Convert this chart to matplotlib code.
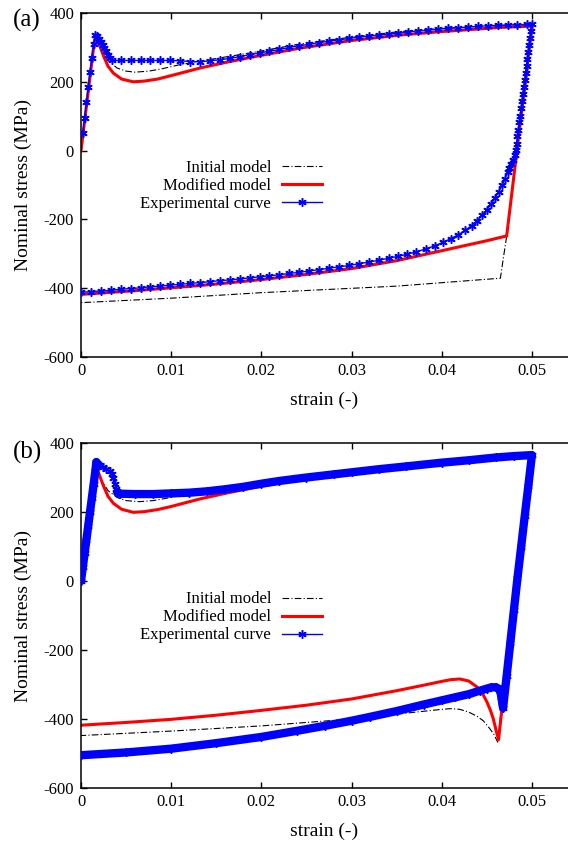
import matplotlib
matplotlib.use("Agg")
import matplotlib.pyplot as plt

# ---- panel (a) ----
init_a_strain = [0.0, 0.0015, 0.0017, 0.0022, 0.0030, 0.0040, 0.0050, 0.0060, 0.0075, 0.0090,
                 0.0110, 0.0132, 0.0190, 0.0243, 0.0300, 0.0354, 0.0400, 0.0465, 0.0500,
                 0.0472, 0.0465, 0.0350, 0.0200, 0.0100, 0.0]
init_a_stress = [0, 322, 325, 295, 262, 240, 231, 228, 231, 238,
                 250, 260, 285, 310, 330, 346, 355, 364, 366,
                 -248, -371, -394, -413, -429, -442]

mod_a_strain = [0.0, 0.0015, 0.0017, 0.0020, 0.0025, 0.0030, 0.0036, 0.0045, 0.0058, 0.0070,
                0.0085, 0.0100, 0.0132, 0.0160, 0.0190, 0.0243, 0.0300, 0.0354, 0.0400, 0.0465,
                0.0500, 0.0472, 0.0450, 0.0400, 0.0350, 0.0300, 0.0250, 0.0200, 0.0150, 0.0100,
                0.0050, 0.0]
mod_a_stress = [0, 322, 326, 310, 275, 245, 225, 208, 200, 202,
                208, 218, 240, 256, 272, 298, 320, 336, 346, 358,
                362, -248, -262, -291, -320, -343, -360, -375, -388, -399,
                -409, -418]

exp_a_strain = [0.0002, 0.0004, 0.0006, 0.0008, 0.0010, 0.0012, 0.0014, 0.0016,
                0.0018, 0.0020, 0.0022, 0.0024, 0.0026, 0.0028, 0.0030, 0.0032, 0.0034,
                0.0044, 0.0055, 0.0066, 0.0077, 0.0088, 0.0099, 0.0110, 0.0121, 0.0132,
                0.0143, 0.0154, 0.0165, 0.0176, 0.0187, 0.0198, 0.0209, 0.0220, 0.0231,
                0.0242, 0.0253, 0.0264, 0.0275, 0.0286, 0.0297, 0.0308, 0.0319, 0.0330,
                0.0341, 0.0352, 0.0363, 0.0374, 0.0385, 0.0396, 0.0407, 0.0418, 0.0429,
                0.0440, 0.0451, 0.0462, 0.0473, 0.0484, 0.0495, 0.0500,
                0.0499, 0.0498, 0.0497, 0.0496, 0.0495, 0.0494, 0.0493, 0.0492, 0.0491,
                0.0490, 0.0489, 0.0488, 0.0487, 0.0486, 0.0485, 0.0484, 0.0483, 0.0482,
                0.0481, 0.0479, 0.0477, 0.0475, 0.0473, 0.0470, 0.0467, 0.0463, 0.0459,
                0.0455, 0.0450, 0.0445, 0.0439, 0.0433, 0.0426, 0.0418, 0.0410, 0.0401,
                0.0392, 0.0382, 0.0372, 0.0362, 0.0352, 0.0341, 0.0330, 0.0319, 0.0308,
                0.0297, 0.0286, 0.0275, 0.0264, 0.0253, 0.0242, 0.0231, 0.0220, 0.0209,
                0.0198, 0.0187, 0.0176, 0.0165, 0.0154, 0.0143, 0.0132, 0.0121, 0.0110,
                0.0099, 0.0088, 0.0077, 0.0066, 0.0055, 0.0044, 0.0033, 0.0022, 0.0011,
                0.0000]
exp_a_stress = [50, 95, 140, 185, 228, 270, 310, 335,
                332, 325, 316, 307, 298, 289, 279, 268, 262,
                262, 262, 262, 262, 262, 262, 261, 259, 258,
                261, 264, 268, 273, 279, 284, 289, 294, 300,
                305, 309, 314, 318, 322, 326, 330, 333, 336,
                339, 342, 345, 348, 350, 353, 355, 357, 359,
                361, 363, 364, 365, 366, 367, 368,
                348, 327, 307, 286, 266, 245, 225, 204, 184,
                164, 143, 123, 102, 82, 61, 41, 20, 2,
                -12, -27, -40, -52, -63, -82, -100, -120, -138,
                -155, -172, -188, -204, -218, -232, -245, -256, -267,
                -277, -286, -294, -301, -307, -313, -319, -324, -329,
                -334, -338, -342, -346, -350, -354, -357, -361, -364,
                -367, -370, -373, -376, -378, -381, -384, -386, -389,
                -391, -394, -396, -399, -401, -403, -406, -408, -410,
                -412]

# ---- panel (b) ----
init_b_strain = [0.0, 0.0015, 0.0017, 0.0022, 0.0030, 0.0040, 0.0050, 0.0065, 0.0080, 0.0095,
                 0.0110, 0.0132, 0.0190, 0.0243, 0.0300, 0.0354, 0.0400, 0.0465, 0.0500,
                 0.0483, 0.0462, 0.0458, 0.0453, 0.0446, 0.0439, 0.0430, 0.0420, 0.0410,
                 0.0400, 0.0350, 0.0300, 0.0200, 0.0100, 0.0]
init_b_stress = [0, 322, 325, 295, 262, 242, 233, 230, 233, 240,
                 248, 257, 278, 298, 314, 330, 342, 356, 362,
                 20, -467, -445, -427, -405, -392, -380, -372, -370,
                 -372, -386, -400, -420, -435, -448]

mod_b_strain = [0.0, 0.0015, 0.0017, 0.0020, 0.0025, 0.0030, 0.0036, 0.0045, 0.0058, 0.0070,
                0.0085, 0.0100, 0.0132, 0.0160, 0.0190, 0.0243, 0.0300, 0.0354, 0.0400, 0.0465,
                0.0500, 0.0483, 0.0463, 0.0460, 0.0457, 0.0454, 0.0450, 0.0445, 0.0439, 0.0430,
                0.0420, 0.0410, 0.0400, 0.0380, 0.0350, 0.0300, 0.0250, 0.0200, 0.0150, 0.0100,
                0.0050, 0.0]
mod_b_stress = [0, 322, 326, 310, 275, 245, 225, 208, 199, 201,
                207, 216, 238, 254, 270, 296, 318, 334, 343, 356,
                362, 20, -460, -430, -398, -375, -350, -325, -307, -290,
                -284, -286, -291, -302, -318, -342, -360, -375, -389, -401,
                -410, -418]

exp_b_strain = [0.0, 0.0002, 0.0004, 0.0006, 0.0008, 0.0010, 0.0012, 0.0014, 0.0016, 0.0017,
                0.0019, 0.0021, 0.0024, 0.0028, 0.0032, 0.0034, 0.0036, 0.0038, 0.0039, 0.0040,
                0.0043, 0.0060, 0.0080, 0.0100, 0.0120, 0.0140, 0.0160, 0.0180, 0.0200, 0.0220,
                0.0250, 0.0280, 0.0300, 0.0330, 0.0360, 0.0400, 0.0430, 0.0460, 0.0480, 0.0500,
                0.0496, 0.0492, 0.0488, 0.0484, 0.0480, 0.0476, 0.0472, 0.0468, 0.0467, 0.0466,
                0.0465, 0.0463, 0.0460, 0.0455, 0.0450, 0.0442, 0.0430, 0.0415, 0.0400, 0.0380,
                0.0350, 0.0320, 0.0300, 0.0270, 0.0240, 0.0200, 0.0150, 0.0100, 0.0050, 0.0000]
exp_b_stress = [0, 40, 80, 120, 160, 200, 240, 280, 320, 345,
                340, 335, 330, 326, 320, 310, 298, 282, 268, 258,
                253, 252, 252, 254, 256, 260, 266, 273, 282, 290,
                300, 309, 315, 324, 332, 343, 350, 358, 362, 365,
                275, 188, 98, 9, -85, -180, -275, -368, -352, -335,
                -320, -312, -308, -308, -312, -318, -328, -337, -346, -358,
                -377, -394, -405, -420, -434, -452, -470, -486, -497, -505]
# point ranges of (b) where the dense data merge into a thick band
band_b = [(0, 10), (19, 70)]

labels = ["Initial model", "Modified model", "Experimental curve"]
y_ticks = [-600, -400, -200, 0, 200, 400]
x_ticks = [0, 0.01, 0.02, 0.03, 0.04, 0.05]
x_tick_labels = ["0", "0.01", "0.02", "0.03", "0.04", "0.05"]

plt.rcParams['font.family'] = ['Liberation Serif', 'DejaVu Serif']
plt.rcParams['font.size'] = 12
plt.rcParams['axes.unicode_minus'] = False


def draw_panel(ax, init, mod, exp, band, leg_y):
    ax.plot(init[0], init[1], color='black', lw=0.8, ls=(0, (6, 2, 1, 2)), label=labels[0])
    ax.plot(mod[0], mod[1], color='#ff0000', lw=2.2, label=labels[1])
    for i0, i1 in band:
        ax.plot(exp[0][i0:i1], exp[1][i0:i1], color='#0000ff', lw=6,
                solid_joinstyle='round', solid_capstyle='round', zorder=3)
    ax.plot(exp[0], exp[1], color='#0000ff', lw=1.0, marker=(6, 2, 0), ms=6, mew=1.1,
            label=labels[2], zorder=4)
    ax.set_xlim(0, 0.054)
    ax.set_ylim(-600, 400)
    ax.set_yticks(y_ticks)
    ax.set_xticks(x_ticks)
    ax.set_xticklabels(x_tick_labels)
    ax.spines['right'].set_visible(False)
    for s in ['left', 'bottom', 'top']:
        ax.spines[s].set_linewidth(1.1)
    ax.tick_params(direction='in', top=True, right=False, length=4, width=1,
                   labelsize=12)
    ax.tick_params(axis='y', pad=5)
    ax.tick_params(axis='x', pad=4)
    ax.set_xlabel('strain (-)', fontsize=14)
    ax.set_ylabel('Nominal stress (MPa)', fontsize=14)
    ax.xaxis.set_label_coords(0.5, -0.1)
    ax.yaxis.set_label_coords(-0.1, 0.5)
    leg = ax.legend(loc='upper right', bbox_to_anchor=(0.495, leg_y), frameon=False,
                    markerfirst=False, fontsize=12, handlelength=2.4, handletextpad=0.65,
                    labelspacing=0.12, borderpad=0, borderaxespad=0)
    return leg


def main():
    fig = plt.figure(figsize=(5.68, 8.43), dpi=100)
    ax1 = fig.add_axes([81 / 568, 1 - 357 / 843, 487 / 568, 344 / 843])
    ax2 = fig.add_axes([81 / 568, 1 - 788 / 843, 487 / 568, 345 / 843])
    draw_panel(ax1, (init_a_strain, init_a_stress), (mod_a_strain, mod_a_stress),
               (exp_a_strain, exp_a_stress), [], 0.573)
    draw_panel(ax2, (init_b_strain, init_b_stress), (mod_b_strain, mod_b_stress),
               (exp_b_strain, exp_b_stress), band_b, 0.570)
    fig.text(27 / 568, 1 - 20 / 843, '(a)', fontsize=18, ha='center', va='center')
    fig.text(27 / 568, 1 - 452 / 843, '(b)', fontsize=18, ha='center', va='center')
    fig.savefig('out.png', dpi=100)


if __name__ == "__main__":
    main()
